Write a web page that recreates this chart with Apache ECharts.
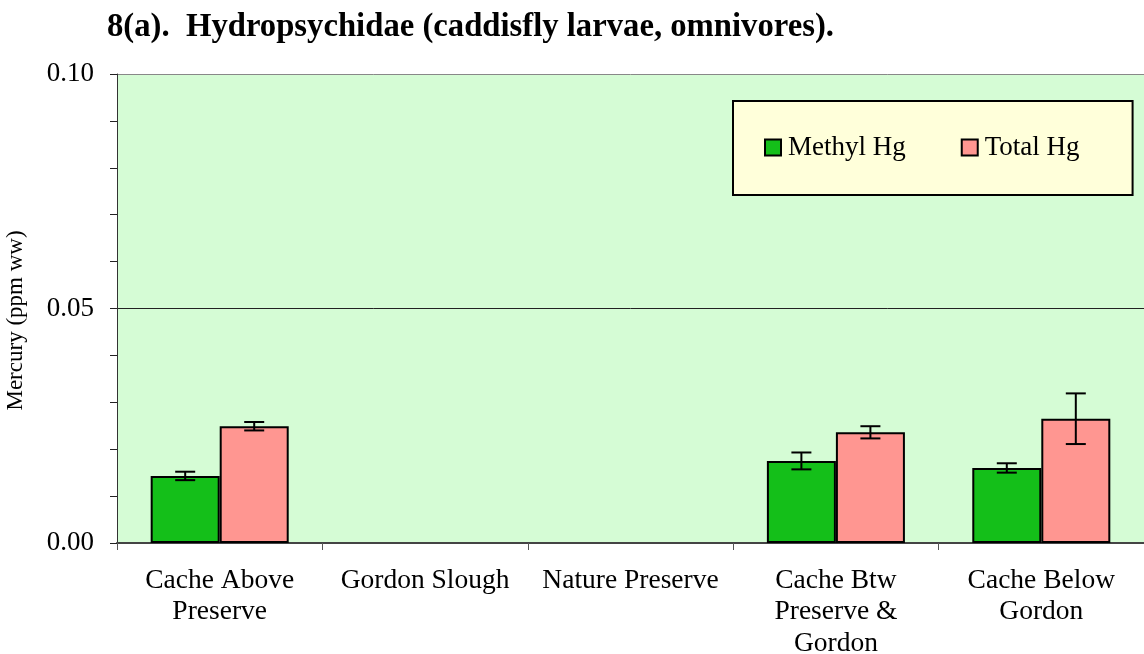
<!DOCTYPE html>
<html>
<head>
<meta charset="utf-8">
<script src="https://cdn.jsdelivr.net/npm/echarts@6/dist/echarts.min.js"></script>
<style>
  html, body { margin: 0; padding: 0; background: #fff; }
  #chart { width: 1144px; height: 654px; }
</style>
</head>
<body>
<div id="chart"></div>
<script>
const categories = ['Cache Above\nPreserve', 'Gordon Slough', 'Nature Preserve', 'Cache Btw\nPreserve &\nGordon', 'Cache Below\nGordon'];
const methylHg = [0.0143, '-', '-', 0.0175, 0.0160];
const methylErr = [0.0009, null, null, 0.0018, 0.0010];
const totalHg = [0.0249, '-', '-', 0.0236, 0.0265];
const totalErr = [0.0009, null, null, 0.0013, 0.0054];
const yTicks = [0, 0.05, 0.1];

const FONT = "'Liberation Serif', 'Times New Roman', serif";
const BAR_FRAC = 0.336; // bar width as share of category band

// [index, value, err] rows for the error bar series
function errRows(vals, errs) {
  const rows = [];
  vals.forEach((v, i) => {
    if (v === '-' || errs[i] == null) return;
    rows.push([i, v, errs[i]]);
  });
  return rows;
}

function errorBars(side) {
  return function (params, api) {
    const i = api.value(0);
    const v = api.value(1);
    const e = api.value(2);
    const band = api.size([1, 0])[0];
    const x = api.coord([i, 0])[0] + side * band * BAR_FRAC / 2;
    const top = api.coord([i, v + e])[1];
    const bot = api.coord([i, v - e])[1];
    const hw = 10;
    const style = { stroke: '#000', lineWidth: 2 };
    return {
      type: 'group',
      children: [
        { type: 'line', shape: { x1: x, y1: top, x2: x, y2: bot }, style },
        { type: 'line', shape: { x1: x - hw, y1: top, x2: x + hw, y2: top }, style },
        { type: 'line', shape: { x1: x - hw, y1: bot, x2: x + hw, y2: bot }, style }
      ]
    };
  };
}

const chart = echarts.init(document.getElementById('chart'));

const option = {
  animation: false,
  textStyle: { fontFamily: FONT },
  title: {
    text: '8(a).  Hydropsychidae (caddisfly larvae, omnivores).',
    left: 107,
    top: 11,
    padding: 0,
    textStyle: { fontFamily: FONT, fontSize: 32.7, fontWeight: 'bold', color: '#000' }
  },
  legend: {
    data: ['Methyl Hg', 'Total Hg'],
    left: 733,
    top: 101,
    orient: 'horizontal',
    padding: [33, 53, 34, 31],
    itemGap: 55,
    itemWidth: 16,
    itemHeight: 16,
    icon: 'rect',
    backgroundColor: '#ffffda',
    borderColor: '#000',
    borderWidth: 2,
    borderRadius: 0,
    textStyle: { fontFamily: FONT, fontSize: 27, color: '#000', padding: [0, 0, 0, 2] }
  },
  grid: {
    left: 117,
    right: 0,
    top: 74,
    bottom: 111,
    outerBoundsMode: 'none',
    containLabel: false,
    show: true,
    backgroundColor: '#d5fcd5',
    borderWidth: 0
  },
  xAxis: {
    type: 'category',
    data: categories,
    axisLine: { lineStyle: { color: '#444', width: 2 } },
    axisTick: { show: true, length: 7, lineStyle: { color: '#555', width: 1 } },
    axisLabel: {
      interval: 0,
      margin: 22,
      fontFamily: FONT,
      fontSize: 27.5,
      lineHeight: 31.5,
      color: '#000'
    },
    splitLine: { show: false }
  },
  yAxis: [
    {
      type: 'value',
      min: 0,
      max: 0.1,
      interval: 0.05,
      name: 'Mercury (ppm ww)',
      nameLocation: 'middle',
      nameGap: 90,
      nameTextStyle: { fontFamily: FONT, fontSize: 23, color: '#000', padding: [0, 24, 0, 0] },
      axisLine: { show: true, lineStyle: { color: '#333', width: 1 } },
      axisTick: { show: false },
      axisLabel: {
        margin: 23,
        fontFamily: FONT,
        fontSize: 27,
        color: '#000',
        formatter: (v) => (yTicks.some((t) => Math.abs(t - v) < 1e-9) ? v.toFixed(2) : '')
      },
      splitLine: { show: true, lineStyle: { color: ['#000', '#222', '#888'], width: 1 } }
    },
    {
      type: 'value',
      min: 0,
      max: 0.1,
      interval: 0.01,
      position: 'left',
      axisLine: { show: false },
      axisTick: { show: true, inside: false, length: 7, lineStyle: { color: '#222', width: 1 } },
      axisLabel: { show: false },
      splitLine: { show: false }
    }
  ],
  series: [
    {
      name: 'Methyl Hg',
      type: 'bar',
      data: methylHg,
      barWidth: (BAR_FRAC * 100) + '%',
      barGap: '0%',
      itemStyle: { color: '#14bf19', borderColor: '#000', borderWidth: 2 }
    },
    {
      name: 'Total Hg',
      type: 'bar',
      data: totalHg,
      barWidth: (BAR_FRAC * 100) + '%',
      barGap: '0%',
      itemStyle: { color: '#ff9691', borderColor: '#000', borderWidth: 2 }
    },
    {
      name: 'Methyl err',
      type: 'custom',
      data: errRows(methylHg, methylErr),
      encode: { x: 0, y: 1 },
      renderItem: errorBars(-1),
      z: 5
    },
    {
      name: 'Total err',
      type: 'custom',
      data: errRows(totalHg, totalErr),
      encode: { x: 0, y: 1 },
      renderItem: errorBars(1),
      z: 5
    }
  ]
};

chart.setOption(option);
</script>
</body>
</html>
